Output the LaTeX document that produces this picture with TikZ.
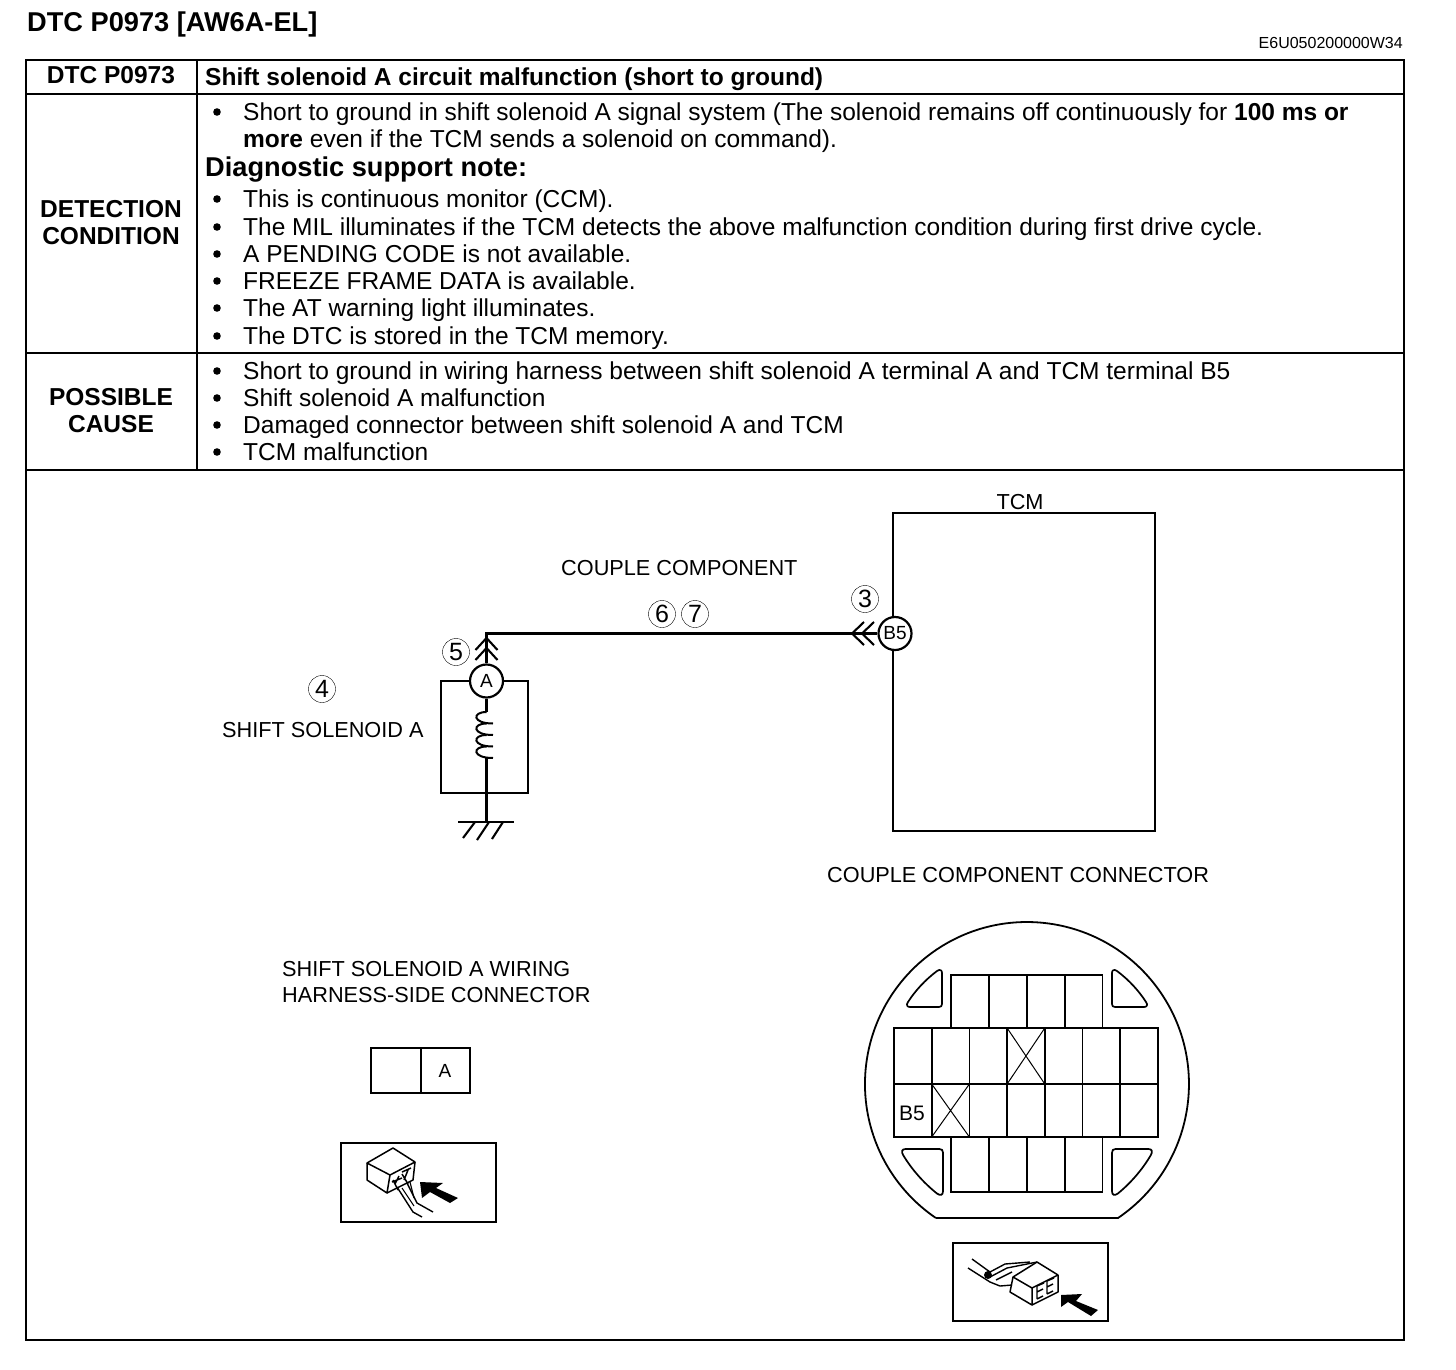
\documentclass[tikz,border=0pt]{standalone}
\usepackage{fontspec}
\setmainfont{Liberation Sans}
\tikzset{
  body/.style={anchor=base west,inner sep=0pt,font=\fontsize{24.5}{27}\selectfont},
  head/.style={anchor=base,inner sep=0pt,font=\fontsize{24.5}{27}\selectfont\bfseries},
  lbl/.style={anchor=base west,inner sep=0pt,font=\fontsize{21.7}{26}\selectfont},
  pinc/.style={draw,circle,fill=white,line width=2.2pt,minimum size=33pt,inner sep=0pt,font=\fontsize{19}{20}\selectfont},
  numc/.style={draw,circle,line width=.4pt,minimum size=27pt,inner sep=0pt,font=\fontsize{25}{25}\selectfont},
  wire/.style={line width=2.1pt},
  cell/.style={line width=1.7pt},
  frame/.style={draw,outer sep=0pt,anchor=north west},
}
\begin{document}
\begin{tikzpicture}[x=1pt,y=-1pt]
  \useasboundingbox (0,0) rectangle (1456,1370);
  % titulo
  \node[anchor=base west,inner sep=0pt,font=\fontsize{27.2}{29}\selectfont\bfseries] (title) at (27,32) {DTC P0973 [AW6A-EL]};
  \node[anchor=base east,inner sep=0pt,font=\fontsize{16}{16}\selectfont] (code) at (1403,49) {E6U050200000W34};
  % tabela
  \draw[line width=2pt] (26,60) rectangle (1404,1340);
  \foreach \y in {94, 353, 470} {
      \draw[line width=1.6pt] (26,\y) -- (1404,\y);
    }
  \draw[line width=1.6pt] (197,60) -- (197,470);
  \node[head] (hdr) at (111,84) {DTC P0973};
  \node[head,anchor=base west] (hdrtxt) at (205,86) {Shift solenoid A circuit malfunction (short to ground)};
  \node[head] (det1) at (111,217) {DETECTION};
  \node[head] (det2) at (111,244) {CONDITION};
  \node[head] (pos1) at (111,405) {POSSIBLE};
  \node[head] (pos2) at (111,432) {CAUSE};
  % textos
  \node[body] (t1) at (243,121) {Short to ground in shift solenoid A signal system (The solenoid remains off continuously for \textbf{100 ms or}};
  \node[body] (t2) at (243,148) {\textbf{more} even if the TCM sends a solenoid on command).};
  \node[body,font=\fontsize{27.2}{29}\selectfont\bfseries] (note) at (205,176) {Diagnostic support note:};
  \node[body] (t3) at (243,207) {This is continuous monitor (CCM).};
  \node[body] (t4) at (243,235) {The MIL illuminates if the TCM detects the above malfunction condition during first drive cycle.};
  \node[body] (t5) at (243,262) {A PENDING CODE is not available.};
  \node[body] (t6) at (243,289) {FREEZE FRAME DATA is available.};
  \node[body] (t7) at (243,316) {The AT warning light illuminates.};
  \node[body] (t8) at (243,344) {The DTC is stored in the TCM memory.};
  \node[body] (t9) at (243,379) {Short to ground in wiring harness between shift solenoid A terminal A and TCM terminal B5};
  \node[body] (t10) at (243,406) {Shift solenoid A malfunction};
  \node[body] (t11) at (243,433) {Damaged connector between shift solenoid A and TCM};
  \node[body] (t12) at (243,460) {TCM malfunction};
  % marcadores
  \foreach \y in {112, 199, 227, 254, 281, 308, 336, 371, 398, 425, 452} {
      \fill (217,\y) circle (3.8pt);
    }
  % esquema
  \node[frame,line width=2.1pt,minimum width=262pt,minimum height=318pt] (tcm) at (893,513) {};
  \node[lbl,anchor=base] (tcmtxt) at (1020,509) {TCM};
  \node[lbl] (couple) at (561,575) {COUPLE COMPONENT};
  \node[lbl] (shift) at (222,737) {SHIFT SOLENOID A};
  \node[lbl] (ccon) at (827,882) {COUPLE COMPONENT CONNECTOR};
  \node[lbl] (scon1) at (282,976) {SHIFT SOLENOID A WIRING};
  \node[lbl] (scon2) at (282,1002) {HARNESS-SIDE CONNECTOR};
  \node[numc] (n3) at (865,599) {3};
  \node[numc] (n4) at (322,689) {4};
  \node[numc] (n5) at (456,652) {5};
  \node[numc] (n6) at (662,614) {6};
  \node[numc] (n7) at (695,614) {7};
  \node[pinc] (pinb) at (895,633.5) {B5};
  \node[pinc] (pina) at (486.5,681) {A};
  \coordinate (corner) at (486.5,633.5);
  \coordinate (coiltop) at (486.5,712);
  \coordinate (coilbot) at (486.5,758);
  \coordinate (gnd) at (486.5,822);
  \draw[wire] (pina) -- (corner) -- (pinb);
  \draw[wire] (pina) -- (441,681) -- (441,793) -- (528,793) -- (528,681) -- (pina);
  \draw[wire] (pina) -- (coiltop);
  \draw[wire] (coilbot) -- (gnd);
  % bobina
  \foreach \y in {712, 723.5, 735, 746.5} {
      \draw[line width=2pt] (486.5,\y) .. controls (472,\y) and (472,\y+11.5) .. (493,\y+11.5);
    }
  % setas
  \foreach \d in {0, 10} {
      \draw[wire] (475.5,650+\d) -- (486.5,638+\d) -- (497.5,650+\d);
      \draw[wire] (864+\d,622) -- (852+\d,633.5) -- (864+\d,645);
    }
  % terra
  \draw[wire] (458,822) -- (514,822);
  \draw[wire] (475,822) -- (463,838);
  \draw[wire] (489,822) -- (477,840);
  \draw[wire] (503,822) -- (492,839);
  % conector pequeno
  \node[frame,line width=1.8pt,minimum width=99pt,minimum height=45pt] (sbox) at (371,1048) {};
  \draw[cell] (421,1048) -- (421,1093);
  \node[inner sep=0pt,font=\fontsize{19}{19}\selectfont] (sa) at (445,1071) {A};
  % conector redondo
  \draw[line width=1.8pt] (936,1218) -- (1118,1218) arc[start angle=55.8,end angle=-235.8,radius=162];
  \foreach \x in {951, 989, 1027, 1065} {
      \draw[cell] (\x,975) rectangle (\x+37.5,1028);
      \draw[cell] (\x,1137) rectangle (\x+37.5,1192);
    }
  \foreach \x in {894, 931.7, 969.4, 1007.1, 1044.8, 1082.5, 1120.2} {
      \draw[cell] (\x,1028) rectangle (\x+37.7,1084);
      \draw[cell] (\x,1084) rectangle (\x+37.7,1137);
    }
  \draw[line width=1pt] (1007.1,1028) -- (1044.8,1084) (1044.8,1028) -- (1007.1,1084);
  \draw[line width=1pt] (931.7,1084) -- (969.4,1137) (969.4,1084) -- (931.7,1137);
  \node[inner sep=0pt,font=\fontsize{21}{21}\selectfont] (bfive) at (912,1113) {B5};
  % cantos
  \foreach \cx/\cy/\sx/\sy in {942/1007/1/1, 1112/1007/-1/1, 943/1149/1.17/-1.24, 1112/1149/-1.14/-1.24} {
      \draw[cell,shift={(\cx,\cy)},xscale=\sx,yscale=\sy] (0,-34) -- (0,-3) .. controls (0,-1) and (-1,0) .. (-3,0) -- (-32,0)
        .. controls (-35,0) and (-36,-2) .. (-34,-5) .. controls (-27,-16) and (-17,-27) .. (-5,-36) .. controls (-2,-38) and (0,-37) .. cycle;
    }
  % icone esquerdo
  \node[frame,line width=2.1pt,minimum width=155pt,minimum height=79pt] (icona) at (341,1143) {};
  \draw[line width=1.5pt,line join=round] (367,1163) -- (393,1148) -- (415,1162) -- (390,1175) -- cycle;
  \draw[line width=1.5pt,line join=round] (367,1163) -- (367,1180) -- (387,1193) -- (390,1175);
  \draw[line width=1.5pt,line join=round] (387,1193) -- (413,1180) -- (415,1162);
  \draw[line width=1.5pt] (393,1180) -- (398,1190) (402,1174) -- (408,1184) (399,1176) -- (395,1184) (408,1170) -- (404,1180) (392,1182) -- (402,1178) (402,1172) -- (411,1168);
  \draw[line width=1.4pt] (397,1187) -- (413,1212) -- (422,1217);
  \draw[line width=1.4pt] (407,1183) -- (417,1203) -- (433,1212);
  \draw[line width=1.1pt] (402,1188) -- (414,1206) (410,1182) -- (414,1198);
  \fill (420,1182) -- (443,1183) -- (436,1188) -- (458,1198) -- (450,1203) -- (430,1192) -- (422,1198) -- cycle;
  % icone direito
  \node[frame,line width=2.1pt,minimum width=155pt,minimum height=78pt] (iconb) at (953,1243) {};
  \draw[line width=1.5pt,line join=round] (1013,1277) -- (1037,1262) -- (1058,1275) -- (1032,1288) -- cycle;
  \draw[line width=1.5pt,line join=round] (1013,1277) -- (1010,1292) -- (1032,1305) -- (1032,1288);
  \draw[line width=1.5pt,line join=round] (1032,1305) -- (1058,1292) -- (1058,1275);
  \draw[line width=1.4pt] (1037,1286) -- (1037,1299) (1037,1286) -- (1044,1283) (1037,1292) -- (1043,1289) (1037,1299) -- (1043,1296);
  \draw[line width=1.4pt] (1047,1281) -- (1047,1294) (1047,1281) -- (1054,1278) (1047,1287) -- (1053,1284) (1047,1294) -- (1053,1291);
  \draw[line width=1.4pt] (968,1268) -- (990,1282) -- (1000,1286);
  \draw[line width=1.4pt] (972,1259) -- (990,1272);
  \draw[line width=1.4pt] (990,1277) -- (1007,1268) -- (1037,1262);
  \draw[line width=1.4pt] (990,1272) -- (1005,1264) -- (1030,1262) (996,1280) -- (1012,1272) (1000,1286) -- (1012,1285);
  \fill (988,1275) circle (4pt);
  \fill (1061,1295) -- (1082,1294) -- (1076,1301) -- (1098,1310) -- (1091,1316) -- (1068,1302) -- (1061,1307) -- cycle;
\end{tikzpicture}
\end{document}
